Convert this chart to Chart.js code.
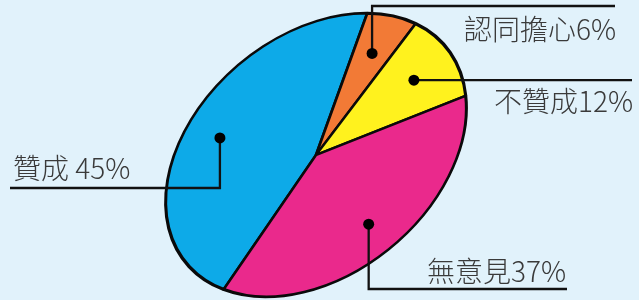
<!DOCTYPE html>
<html>
<head>
<meta charset="utf-8">
<script src="https://cdn.jsdelivr.net/npm/chart.js@4.4.1/dist/chart.umd.min.js"></script>
<style>
  html, body { margin: 0; padding: 0; background: #e1f2fb; }
  #pie { display: block; }
</style>
</head>
<body>
<canvas id="pie" width="639" height="300"></canvas>
<script>
// data
var categories = ['贊成', '認同擔心', '不贊成', '無意見'];
var percents = [45, 6, 12, 37];
var label_gap = [' ', '', '', ''];
var slice_colors = ['#0daae8', '#f27a36', '#fff21e', '#ea298c'];

// the pie is drawn as a circle, then squashed into a tilted ellipse
var ellipse = { cx: 316, cy: 155, rx: 169, ry: 119, tilt: -40 };

// where each label's leader line goes (same order as categories)
var label_layout = [
  { route: 'down-left', lineY: 188, lineX: 10, textX: 13, textY: 168, align: 'left' },
  { route: 'up-right', lineY: 6, lineX: 615, textX: 616, textY: 29, align: 'right' },
  { route: 'right', lineX: 632, textX: 633, textY: 101, align: 'right' },
  { route: 'down-right', lineY: 289, lineX: 567, textX: 566, textY: 271, align: 'right' }
];

var pie_matrix = null;

var ellipse_plugin = {
  id: 'ellipse',
  beforeDatasetsDraw: function (chart) {
    var arc = chart.getDatasetMeta(0).data[0];
    var ctx = chart.ctx;
    ctx.save();
    ctx.translate(ellipse.cx, ellipse.cy);
    ctx.rotate(ellipse.tilt * Math.PI / 180);
    ctx.scale(ellipse.rx / arc.outerRadius, ellipse.ry / arc.outerRadius);
    ctx.translate(-arc.x, -arc.y);
    pie_matrix = ctx.getTransform();
  },
  afterDatasetsDraw: function (chart) {
    chart.ctx.restore();
  },
  afterDraw: function (chart) {
    var ctx = chart.ctx;
    var arcs = chart.getDatasetMeta(0).data;
    ctx.save();
    ctx.strokeStyle = '#111';
    ctx.fillStyle = '#000';
    ctx.lineWidth = 2.3;
    for (var i = 0; i < arcs.length; i++) {
      var a = arcs[i];
      var mid = (a.startAngle + a.endAngle) / 2;
      var r = a.outerRadius * 0.73;
      var p = pie_matrix.transformPoint(new DOMPoint(a.x + Math.cos(mid) * r, a.y + Math.sin(mid) * r));
      var lay = label_layout[i];

      ctx.beginPath();
      ctx.moveTo(p.x, p.y);
      if (lay.route == 'right') {
        ctx.lineTo(lay.lineX, p.y);
      } else {
        ctx.lineTo(p.x, lay.lineY);
        ctx.lineTo(lay.lineX, lay.lineY);
      }
      ctx.stroke();

      ctx.beginPath();
      ctx.arc(p.x, p.y, 5.5, 0, Math.PI * 2);
      ctx.fill();

      ctx.save();
      ctx.fillStyle = '#3a3a3a';
      ctx.font = '300 28px "Noto Sans CJK TC"';
      ctx.textAlign = lay.align;
      ctx.textBaseline = 'middle';
      ctx.fillText(categories[i] + label_gap[i] + percents[i] + '%', lay.textX, lay.textY);
      ctx.restore();
    }
    ctx.restore();
  }
};

var ctx = document.getElementById('pie').getContext('2d');

var chart = new Chart(ctx, {
  type: 'pie',
  data: {
    labels: categories,
    datasets: [{
      data: percents,
      backgroundColor: slice_colors,
      borderColor: '#0a0a0a',
      borderWidth: 3,
      clip: false
    }]
  },
  options: {
    responsive: false,
    animation: false,
    events: [],
    rotation: 248.5,
    layout: { padding: 0 },
    plugins: {
      legend: { display: false },
      tooltip: { enabled: false }
    }
  },
  plugins: [ellipse_plugin]
});
</script>
</body>
</html>
